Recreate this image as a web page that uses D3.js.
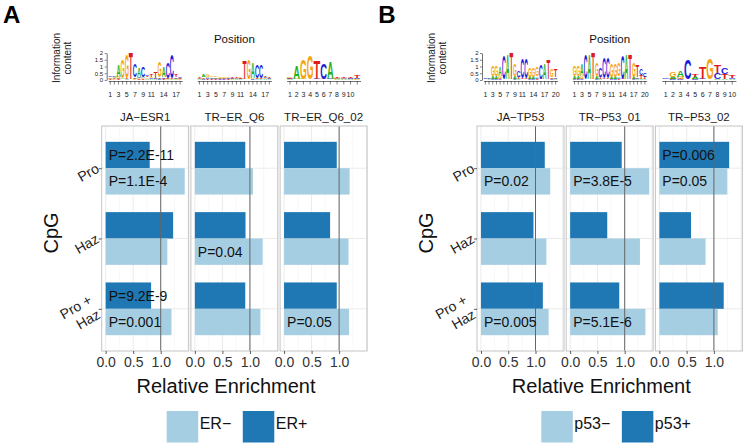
<!DOCTYPE html>
<html><head><meta charset="utf-8">
<script src="https://cdn.jsdelivr.net/npm/d3@7"></script>
<style>
body{margin:0;background:#fff}
svg{display:block}
text{font-family:"Liberation Sans",Arial,Helvetica,sans-serif}
</style>
</head><body>
<svg id="c" width="746" height="445"></svg>
<script>
// ---------------- DATA ----------------
const cpgCategories = ["Pro", "Haz", "Pro+Haz"];
const cpgLabels = ["Pro", "Haz", "Pro +\nHaz"];

const motifsA = ["JA\u2212ESR1", "TR\u2212ER_Q6", "TR\u2212ER_Q6_02"];
const motifsB = ["JA\u2212TP53", "TR\u2212P53_01", "TR\u2212P53_02"];
const seriesA = ["ER\u2212", "ER+"];
const seriesB = ["p53\u2212", "p53+"];

// relative enrichment, one row per motif, columns follow cpgCategories
const erPlus  = [[0.80, 1.225, 0.825], [0.915, 0.92, 0.915], [0.957, 0.836, 0.957]];
const erMinus = [[1.436, 1.12, 1.195], [1.055, 1.23, 1.19], [1.19, 1.17, 1.18]];
const p53Plus  = [[1.17, 0.963, 1.135], [0.945, 0.68, 0.90], [1.28, 0.58, 1.18]];
const p53Minus = [[1.27, 1.20, 1.24], [1.45, 1.28, 1.38], [1.245, 0.847, 1.07]];

// p-value annotations: [motif index, category, series index (0 = minus, 1 = plus), text]
const pValuesA = [
  [0, "Pro", 1, "P=2.2E-11"], [0, "Pro", 0, "P=1.1E-4"],
  [0, "Pro+Haz", 1, "P=9.2E-9"], [0, "Pro+Haz", 0, "P=0.001"],
  [1, "Haz", 0, "P=0.04"], [2, "Pro+Haz", 0, "P=0.05"]
];
const pValuesB = [
  [0, "Pro", 0, "P=0.02"], [0, "Pro+Haz", 0, "P=0.005"],
  [1, "Pro", 0, "P=3.8E-5"], [1, "Pro+Haz", 0, "P=5.1E-6"],
  [2, "Pro", 1, "P=0.006"], [2, "Pro", 0, "P=0.05"]
];

const xTickValues = [0, 0.5, 1.0];
const refValue = 1.0;

// sequence logos: information content per position and base
const logoJA_ESR1 = [
  {A:.08,C:.12,G:.06,T:.05},{A:.1,C:.1,G:.06,T:.06},{A:.9,C:.05,G:.15,T:.04},{A:.1,C:.03,G:1.4,T:.03},
  {A:.05,C:.03,G:1.75,T:.05},{A:.03,C:.03,G:.03,T:1.98},{A:.1,C:.95,G:.05,T:.05},{A:.7,C:.1,G:.08,T:.05},
  {A:.1,C:.75,G:.08,T:.05},{A:.1,C:.12,G:.1,T:.1},{A:.06,C:.08,G:.1,T:.14},{A:.05,C:.08,G:.05,T:.45},
  {A:.1,C:.05,G:1.15,T:.05},{A:.75,C:.1,G:.06,T:.05},{A:.05,C:1.2,G:.05,T:.05},{A:.05,C:1.75,G:.03,T:.05},
  {A:.05,C:.12,G:.05,T:.18},{A:.06,C:.08,G:.05,T:.06}
];
const logoTR_ER_Q6 = [
  {A:.05,C:.05,G:.05,T:.05},{A:.18,C:.05,G:.1,T:.05},{A:.1,C:.08,G:.15,T:.05},{A:.1,C:.06,G:.12,T:.05},
  {A:.08,C:.06,G:.08,T:.05},{A:.06,C:.05,G:.1,T:.05},{A:.08,C:.05,G:.12,T:.05},{A:.06,C:.06,G:.06,T:.05},
  {A:.05,C:.06,G:.05,T:.08},{A:.05,C:.05,G:.06,T:.06},{A:.05,C:.06,G:.1,T:.06},{A:.03,C:.03,G:.05,T:1.35},
  {A:.03,C:.03,G:1.45,T:.03},{A:1.15,C:.05,G:.05,T:.03},{A:.05,C:1.0,G:.03,T:.05},{A:.05,C:.95,G:.03,T:.05},
  {A:.06,C:.08,G:.06,T:.08},{A:.05,C:.06,G:.05,T:.06}
];
const logoTR_ER_Q6_02 = [
  {A:.05,C:.05,G:.06,T:.05},{A:1.0,C:.03,G:.05,T:.03},{A:.05,C:.03,G:1.45,T:.03},{A:.03,C:.03,G:1.75,T:.03},
  {A:.03,C:.05,G:.03,T:1.35},{A:.03,C:1.2,G:.03,T:.05},{A:1.25,C:.05,G:.03,T:.03},{A:.05,C:.05,G:.05,T:.05},
  {A:.05,C:.05,G:.05,T:.06},{A:.05,C:.06,G:.05,T:.06},{A:.05,C:.08,G:.04,T:.22}
];
const logoJA_TP53 = [
  {A:.04,C:.06,G:.03,T:.03},{A:.04,C:.05,G:.04,T:.03},{A:.2,C:.04,G:.75,T:.04},{A:.2,C:.04,G:.75,T:.04},
  {A:.7,C:.04,G:.2,T:.04},{A:.03,C:1.75,G:.03,T:.03},{A:1.9,C:.03,G:.03,T:.03},{A:.03,C:.03,G:.03,T:1.95},
  {A:.2,C:.04,G:.9,T:.04},{A:.05,C:.5,G:.05,T:.15},{A:.03,C:1.45,G:.03,T:.1},{A:.03,C:1.45,G:.03,T:.1},
  {A:.15,C:.04,G:.7,T:.04},{A:.15,C:.04,G:.7,T:.04},{A:.12,C:.1,G:.7,T:.04},{A:.03,C:1.1,G:.03,T:.04},
  {A:1.2,C:.03,G:.03,T:.03},{A:.03,C:.03,G:.03,T:1.5},{A:.1,C:.04,G:.6,T:.06},{A:.05,C:.1,G:.05,T:.55}
];
const logoTR_P53_01 = [
  {A:.2,C:.04,G:.8,T:.04},{A:.2,C:.04,G:.8,T:.04},{A:.9,C:.04,G:.2,T:.04},{A:.03,C:1.85,G:.03,T:.03},
  {A:1.9,C:.03,G:.03,T:.03},{A:.03,C:.03,G:.03,T:1.95},{A:.2,C:.04,G:1.0,T:.04},{A:.05,C:.7,G:.05,T:.15},
  {A:.03,C:1.55,G:.03,T:.1},{A:.03,C:1.55,G:.03,T:.1},{A:.15,C:.04,G:1.0,T:.04},{A:.15,C:.04,G:1.0,T:.04},
  {A:.12,C:.1,G:1.0,T:.04},{A:.03,C:1.8,G:.03,T:.04},{A:1.85,C:.03,G:.03,T:.03},{A:.03,C:.03,G:.03,T:1.9},
  {A:.15,C:.04,G:1.05,T:.06},{A:.05,C:.12,G:.05,T:.85},{A:.05,C:.45,G:.05,T:.3},{A:.05,C:.3,G:.05,T:.15}
];
const logoTR_P53_02 = [
  {A:.03,C:.04,G:.03,T:.03},{A:.15,C:.05,G:.35,T:.05},{A:.5,C:.05,G:.15,T:.05},{A:.03,C:1.5,G:.03,T:.03},
  {A:.15,C:.05,G:.05,T:.15},{A:.03,C:.05,G:.03,T:.9},{A:.03,C:.03,G:1.6,T:.03},{A:.05,C:.45,G:.03,T:.55},
  {A:.05,C:.5,G:.03,T:.35},{A:.05,C:.1,G:.03,T:.2}
];
const logoTicks18 = [1, 3, 5, 7, 9, 11, 14, 17];
const logoTicks20 = [1, 3, 5, 7, 9, 11, 14, 17, 20];
const logoTicks10 = [1, 2, 3, 4, 5, 6, 7, 8, 9, 10];
const logoYTicks = [0, 0.5, 1, 1.5, 2];

// ---------------- STYLE ----------------
const colLight = "#a6cee3", colDark = "#1f78b4";
const logoColors = {A: "#22b022", C: "#1c1cd8", G: "#f5a50a", T: "#e01b1b"};
const FONT = '"Liberation Sans",Arial,sans-serif';

const svg = d3.select("#c");
svg.append("rect").attr("width", 746).attr("height", 445).attr("fill", "#fff");

const facetW = 87, facetGap = 2.2, facetLeft0 = 101.7;
const panelTop = 126, panelBottom = 351;

const yCat = d3.scalePoint().domain(cpgCategories).range([panelTop, panelBottom]).padding(0.6);
const barH = yCat.step() * 0.75 / 2;

const panels = [
  {ox: 0, letter: "A", motifs: motifsA, series: seriesA, plus: erPlus, minus: erMinus, pvals: pValuesA,
   logos: [logoJA_ESR1, logoTR_ER_Q6, logoTR_ER_Q6_02], logoTicks: [logoTicks18, logoTicks18, logoTicks10], legendX: 166.7},
  {ox: 375.3, letter: "B", motifs: motifsB, series: seriesB, plus: p53Plus, minus: p53Minus, pvals: pValuesB,
   logos: [logoJA_TP53, logoTR_P53_01, logoTR_P53_02], logoTicks: [logoTicks20, logoTicks20, logoTicks10], legendX: 541.3}
];

panels.forEach(P => {
  const g = svg.append("g");
  const maxV = d3.max([...P.plus.flat(), ...P.minus.flat()]);
  const dom = [-0.05 * maxV, maxV * 1.05];

  // panel letter
  g.append("text").attr("x", P.ox + 3).attr("y", 23).attr("font-size", 24).attr("font-weight", "bold")
    .attr("fill", "#000").text(P.letter);

  // logo titles
  const fxs = P.motifs.map((m, i) => P.ox + facetLeft0 + i * (facetW + facetGap));
  g.append("text").attr("x", fxs[1] + facetW / 2).attr("y", 43).attr("text-anchor", "middle")
    .attr("font-size", 11.5).attr("fill", "#111").text("Position");
  const ic = g.append("text").attr("transform", `translate(${P.ox + 60},58) rotate(-90)`)
    .attr("text-anchor", "middle").attr("font-size", 10).attr("fill", "#222");
  ic.append("tspan").attr("x", 0).attr("y", 0).text("Information");
  ic.append("tspan").attr("x", 0).attr("y", 11).text("content");

  // CpG title
  g.append("text").attr("transform", `translate(${P.ox + 57.5},233) rotate(-90)`)
    .attr("text-anchor", "middle").attr("font-size", 20).attr("fill", "#111").text("CpG");

  // Relative Enrichment
  g.append("text").attr("x", P.ox + 226).attr("y", 393).attr("text-anchor", "middle")
    .attr("font-size", 20).attr("fill", "#111").text("Relative Enrichment");

  P.motifs.forEach((motif, mi) => {
    const fx = fxs[mi];
    const x = d3.scaleLinear().domain(dom).range([fx, fx + facetW]);
    const fg = g.append("g");

    // strip label
    fg.append("text").attr("x", fx + facetW / 2).attr("y", 120.5).attr("text-anchor", "middle")
      .attr("font-size", 11.5).attr("fill", "#1a1a1a").text(motif);

    // grid
    const minor = [0.25, 0.75, 1.25].filter(v => v <= dom[1]);
    const major = [0, 0.5, 1.0, 1.5].filter(v => v <= dom[1]);
    fg.selectAll(".gmin").data(minor).enter().append("line")
      .attr("x1", d => x(d)).attr("x2", d => x(d)).attr("y1", panelTop).attr("y2", panelBottom)
      .attr("stroke", "#f3f3f3").attr("stroke-width", 0.6);
    fg.selectAll(".gmaj").data(major).enter().append("line")
      .attr("x1", d => x(d)).attr("x2", d => x(d)).attr("y1", panelTop).attr("y2", panelBottom)
      .attr("stroke", "#e9e9e9").attr("stroke-width", 0.9);
    fg.selectAll(".gh").data(cpgCategories).enter().append("line")
      .attr("x1", fx).attr("x2", fx + facetW).attr("y1", d => yCat(d)).attr("y2", d => yCat(d))
      .attr("stroke", "#e9e9e9").attr("stroke-width", 0.9);

    // bars
    fg.selectAll(".bp").data(cpgCategories).enter().append("rect")
      .attr("x", x(0)).attr("y", d => yCat(d) - barH)
      .attr("width", (d, i) => x(P.plus[mi][i]) - x(0)).attr("height", barH).attr("fill", colDark);
    fg.selectAll(".bm").data(cpgCategories).enter().append("rect")
      .attr("x", x(0)).attr("y", d => yCat(d))
      .attr("width", (d, i) => x(P.minus[mi][i]) - x(0)).attr("height", barH).attr("fill", colLight);

    // reference line
    fg.append("line").attr("x1", x(refValue)).attr("x2", x(refValue)).attr("y1", panelTop).attr("y2", panelBottom)
      .attr("stroke", "#666").attr("stroke-width", 1);

    // p-value labels
    P.pvals.filter(p => p[0] === mi).forEach(p => {
      const yc = p[2] === 1 ? yCat(p[1]) - barH / 2 : yCat(p[1]) + barH / 2;
      fg.append("text").attr("x", x(0) + 3).attr("y", yc + 5).attr("font-size", 14)
        .attr("fill", "#111").text(p[3]);
    });

    // border
    fg.append("rect").attr("x", fx).attr("y", panelTop).attr("width", facetW).attr("height", panelBottom - panelTop)
      .attr("fill", "none").attr("stroke", "#c4c4c4").attr("stroke-width", 1);

    // x axis
    const xa = fg.append("g").attr("transform", `translate(0,${panelBottom})`)
      .call(d3.axisBottom(x).tickValues(xTickValues).tickFormat(d3.format(".1f")).tickSize(3).tickPadding(3));
    xa.select(".domain").remove();
    xa.selectAll("line").attr("stroke", "#333").attr("stroke-width", 0.8);
    xa.selectAll("text").attr("font-size", 14).attr("fill", "#333").attr("font-family", FONT);

    // y axis (first facet only)
    if (mi === 0) {
      const ya = fg.append("g").attr("transform", `translate(${fx},0)`)
        .call(d3.axisLeft(yCat).tickSize(3).tickFormat(""));
      ya.select(".domain").remove();
      ya.selectAll("text").remove();
      ya.selectAll("line").attr("stroke", "#333").attr("stroke-width", 0.8);
      cpgCategories.forEach((c, ci) => {
        const lines = cpgLabels[ci].split("\n");
        const multi = lines.length > 1;
        const ax = multi ? fx - 7 : fx - 4;
        const ay = multi ? yCat(c) - 3 : yCat(c) - 1;
        const lg = fg.append("g").attr("transform", `translate(${ax},${ay}) rotate(-30)`);
        const lh = 17;
        lines.forEach((ln, li) => {
          lg.append("text").attr("x", 0).attr("y", (li - (lines.length - 1) / 2) * lh)
            .attr("dy", "0.35em").attr("text-anchor", "end").attr("font-size", 14).attr("fill", "#222").text(ln);
        });
      });
    }

    // sequence logo
    const logo = P.logos[mi];
    const positions = logo.map((d, i) => i + 1);
    const lx = d3.scaleBand().domain(positions).range([fx + 6.5, fx + facetW - 6.5]).padding(0);
    const ly = d3.scaleLinear().domain([0, 2]).range([80, 53]);
    const lgLogo = fg.append("g");
    logo.forEach((pos, pi) => {
      const entries = Object.entries(pos).sort((a, b) => a[1] - b[1]);
      let acc = 0;
      entries.forEach(([L, h]) => {
        const yb = ly(acc), yt = ly(acc + h);
        const t = lgLogo.append("text").text(L).attr("font-size", 100).attr("font-weight", "bold")
          .attr("fill", logoColors[L]);
        const adv = t.node().getComputedTextLength() || 70;
        const w = lx.bandwidth();
        t.attr("transform", `translate(${lx(pi + 1)},${yb}) scale(${w / adv},${(yb - yt) / 71.6})`);
        acc += h;
      });
    });
    const lxa = fg.append("g").attr("transform", "translate(0,81)")
      .call(d3.axisBottom(lx).tickValues(positions).tickSize(3.5).tickSizeOuter(0).tickPadding(8)
        .tickFormat(d => P.logoTicks[mi].includes(d) ? d : ""));
    lxa.select(".domain").attr("stroke", "#333").attr("stroke-width", 0.7);
    lxa.selectAll("line").attr("stroke", "#333").attr("stroke-width", 0.6);
    lxa.selectAll("text").filter(function () { return !this.textContent; }).remove();
    lxa.selectAll("text").attr("font-size", 7).attr("fill", "#222").attr("font-family", FONT);
    if (mi === 0) {
      const lya = fg.append("g").attr("transform", `translate(${fx + 5},0)`)
        .call(d3.axisLeft(ly).tickValues(logoYTicks).tickSize(2).tickSizeOuter(0).tickPadding(1.5)
          .tickFormat(d => d3.format("")(d)));
      lya.select(".domain").attr("stroke", "#333").attr("stroke-width", 0.7);
      lya.selectAll("line").attr("stroke", "#333").attr("stroke-width", 0.6);
      lya.selectAll("text").attr("font-size", 6).attr("fill", "#222").attr("font-family", FONT);
    }
  });

  // legend
  const leg = g.append("g");
  let lxp = P.legendX;
  [colLight, colDark].forEach((col, i) => {
    leg.append("rect").attr("x", lxp).attr("y", 411).attr("width", 31.5).attr("height", 31.5).attr("fill", col);
    const t = leg.append("text").attr("x", lxp + 33).attr("y", 428.5).attr("font-size", 16)
      .attr("fill", "#111").text(P.series[i]);
    lxp += 33 + t.node().getComputedTextLength() + 11.5;
  });
});
</script>
</body></html>
